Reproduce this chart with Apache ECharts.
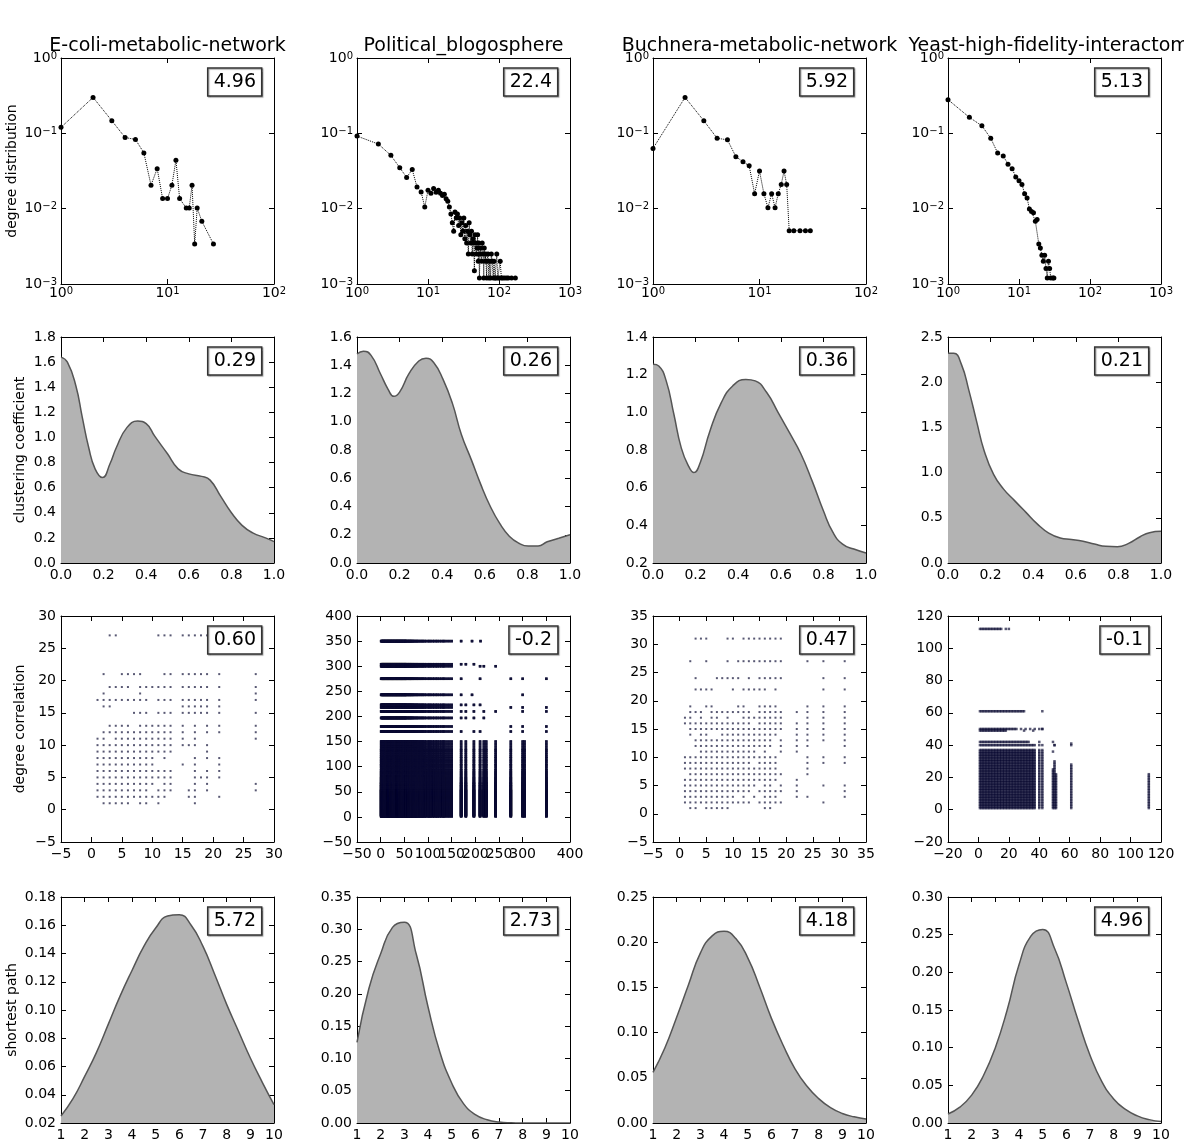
<!DOCTYPE html>
<html lang="en">
<head>
<meta charset="UTF-8">
<title>network statistics</title>
<script src="https://cdn.jsdelivr.net/npm/echarts@6/dist/echarts.min.js"></script>
<style>
    html, body { margin: 0; padding: 0; background: #fff; }
    #main { width: 1184px; height: 1148px; }
</style>
</head>
<body>
<div id="main"></div>
<script>
// ---- data -------------------------------------------------------------
var networks = ['E-coli-metabolic-network', 'Political_blogosphere', 'Buchnera-metabolic-network', 'Yeast-high-fidelity-interactome'];
var rowNames = ['degree distribution', 'clustering coefficient', 'degree correlation', 'shortest path'];

var degLabels  = ['4.96', '22.4', '5.92', '5.13'];
var ccLabels   = ['0.29', '0.26', '0.36', '0.21'];
var corrLabels = ['0.60', '-0.2', '0.47', '-0.1'];
var pathLabels = ['5.72', '2.73', '4.18', '4.96'];

// degree distribution (k, P(k))
var ecoliDegK = [1, 2, 3, 4, 5, 6, 7, 8, 9, 10, 11, 12, 13, 15, 16, 17, 18, 19, 21, 27];
var ecoliDegP = [0.12, 0.30, 0.147, 0.088, 0.083, 0.055, 0.0205, 0.034, 0.0136, 0.0136, 0.0205, 0.044, 0.0136, 0.0102, 0.0102, 0.0205, 0.0034, 0.0102, 0.0068, 0.0034];

var polDegK = [1, 2, 3, 4, 5, 6, 7, 8, 9, 10, 11, 12, 13, 14, 15, 16, 17, 18, 19, 20,
    21, 22, 23, 24, 25, 26, 27, 28, 29, 30, 31, 32, 33, 34, 35, 36, 37, 38, 39, 40,
    41, 42, 43, 44, 45, 46, 47, 48, 49, 50, 51, 52, 53, 54, 55,
    57, 58, 60, 61, 62, 64, 65, 67, 68, 70,
    72, 74, 76, 78, 80, 83, 85, 88, 90, 93,
    96, 100, 104, 108, 113, 120, 128, 135, 150, 170];
var polDegP = [0.092, 0.072, 0.051, 0.035, 0.026, 0.033, 0.0194, 0.0167, 0.0105, 0.0175,
    0.016, 0.0185, 0.0165, 0.0175, 0.016, 0.015, 0.0155, 0.0135, 0.0125, 0.0105,
    0.0085, 0.0065, 0.005, 0.009, 0.0075, 0.0085, 0.006, 0.0075, 0.0045, 0.0065,
    0.005, 0.0075, 0.004, 0.006, 0.0035, 0.005, 0.0025, 0.0065, 0.0045, 0.0035,
    0.005, 0.0025, 0.004, 0.0035, 0.0015, 0.0045, 0.0035, 0.0025, 0.003, 0.0045,
    0.002, 0.0035, 0.0012, 0.0025, 0.003,
    0.002, 0.0035, 0.0025, 0.0012, 0.003, 0.002, 0.0025, 0.0012, 0.002, 0.0025,
    0.0012, 0.002, 0.0012, 0.0025, 0.002, 0.0012, 0.002, 0.0012, 0.0012, 0.0025,
    0.0012, 0.0012, 0.002, 0.0012, 0.0012, 0.0012, 0.0012, 0.0012, 0.0012, 0.0012];

var buchDegK = [1, 2, 3, 4, 5, 6, 7, 8, 9, 10, 11, 12, 13, 14, 15, 16, 17, 18, 19, 21, 24, 27, 30];
var buchDegP = [0.063, 0.30, 0.147, 0.086, 0.082, 0.049, 0.042, 0.037, 0.0158, 0.0316, 0.0158, 0.0103,
    0.0158, 0.0103, 0.0158, 0.021, 0.0316, 0.021, 0.0051, 0.0051, 0.0051, 0.0051, 0.0051];

var yeastDegK = [1, 2, 3, 4, 5, 6, 7, 8, 9, 10, 11, 12, 13, 14, 15, 16, 17, 18, 19, 20,
    21, 22, 23, 24, 25, 26, 27, 28, 30, 31];
var yeastDegP = [0.28, 0.163, 0.126, 0.086, 0.055, 0.05, 0.039, 0.034, 0.0264, 0.0235,
    0.021, 0.0158, 0.0139, 0.0099, 0.0092, 0.0088, 0.0068, 0.0072, 0.0034, 0.003,
    0.0024, 0.002, 0.0024, 0.0016, 0.0012, 0.002, 0.0016, 0.0012, 0.0012, 0.0012];

// clustering coefficient densities
var ecoliCcX = [0, 0.03, 0.07, 0.1, 0.13, 0.16, 0.195, 0.23, 0.26, 0.31, 0.36, 0.4, 0.44, 0.5, 0.55, 0.6, 0.66, 0.7, 0.75, 0.8, 0.85, 0.9, 0.96, 1.0];
var ecoliCcY = [1.64, 1.60, 1.41, 1.16, 0.92, 0.75, 0.68, 0.79, 0.92, 1.08, 1.13, 1.11, 1.01, 0.87, 0.75, 0.71, 0.69, 0.66, 0.53, 0.40, 0.30, 0.24, 0.20, 0.17];
var polCcX = [0, 0.03, 0.066, 0.11, 0.146, 0.173, 0.2, 0.244, 0.29, 0.324, 0.36, 0.404, 0.448, 0.49, 0.537, 0.58, 0.626, 0.67, 0.715, 0.76, 0.804, 0.85, 0.893, 0.947, 1.0];
var polCcY = [1.48, 1.50, 1.47, 1.34, 1.23, 1.18, 1.21, 1.34, 1.43, 1.45, 1.42, 1.30, 1.13, 0.91, 0.73, 0.56, 0.40, 0.28, 0.19, 0.14, 0.12, 0.12, 0.15, 0.175, 0.20];
var buchCcX = [0, 0.027, 0.062, 0.098, 0.133, 0.169, 0.192, 0.222, 0.267, 0.32, 0.374, 0.436, 0.48, 0.534, 0.587, 0.64, 0.694, 0.747, 0.8, 0.845, 0.89, 0.943, 1.0];
var buchCcY = [1.255, 1.246, 1.167, 0.99, 0.81, 0.71, 0.68, 0.734, 0.90, 1.05, 1.14, 1.175, 1.167, 1.105, 1.0, 0.893, 0.78, 0.636, 0.477, 0.362, 0.30, 0.274, 0.253];
var yeastCcX = [0, 0.027, 0.0625, 0.098, 0.134, 0.17, 0.214, 0.26, 0.3125, 0.366, 0.42, 0.473, 0.527, 0.58, 0.634, 0.6875, 0.741, 0.795, 0.848, 0.902, 0.946, 1.0];
var yeastCcY = [2.32, 2.32, 2.2, 1.91, 1.57, 1.24, 0.98, 0.82, 0.69, 0.56, 0.43, 0.33, 0.276, 0.26, 0.24, 0.21, 0.184, 0.18, 0.217, 0.29, 0.335, 0.35];

// degree correlation: [neighbour degree, [node degrees]]
var ecoliCorrRows = [
    [27, [3, 4, 11, 12, 13, 15, 16, 17, 18, 19, 21]],
    [21, [2, 5, 6, 7, 8, 12, 13, 15, 16, 17, 18, 19, 21, 27]],
    [19, [3, 4, 5, 6, 8, 9, 10, 11, 12, 13, 15, 16, 17, 18, 19, 21, 27]],
    [18, [2, 8, 27]],
    [17, [1, 2, 3, 4, 5, 6, 7, 8, 9, 11, 12, 13, 15, 16, 17, 18, 19, 21, 27]],
    [16, [2, 3, 15, 16, 17, 18, 19, 21]],
    [15, [7, 8, 9, 11, 12, 13, 15, 16, 17, 18, 19, 21, 27]],
    [13, [3, 4, 5, 6, 8, 9, 10, 11, 12, 13, 15, 17, 19, 21, 27]],
    [12, [2, 3, 4, 5, 6, 7, 8, 9, 10, 11, 12, 13, 15, 17, 19, 21, 27]],
    [11, [1, 2, 4, 5, 6, 7, 8, 9, 10, 11, 12, 13, 15, 17, 27]],
    [10, [1, 2, 3, 4, 5, 6, 7, 8, 9, 10, 11, 12, 13, 15, 16, 17, 19]],
    [9, [1, 2, 3, 4, 5, 6, 7, 8, 9, 10, 11, 12, 13, 19]],
    [8, [1, 2, 3, 4, 5, 6, 7, 8, 9, 10, 12, 17, 19, 21]],
    [7, [1, 2, 3, 4, 5, 6, 7, 8, 9, 10, 15, 17, 21]],
    [6, [1, 2, 3, 4, 5, 6, 7, 8, 9, 10, 11, 12, 13, 17, 19, 21]],
    [5, [1, 2, 3, 4, 5, 6, 7, 8, 9, 10, 11, 12, 13, 17, 18, 19, 21]],
    [4, [1, 2, 3, 4, 5, 6, 7, 8, 9, 10, 12, 13, 17, 19, 27]],
    [3, [1, 2, 3, 4, 5, 6, 7, 8, 9, 11, 12, 13, 16, 17, 19, 27]],
    [2, [1, 2, 3, 4, 5, 6, 7, 8, 9, 10, 11, 12, 16, 17, 21]],
    [1, [2, 3, 4, 5, 6, 8, 9, 11, 17]]
];
var buchCorrRows = [
    [31, [3, 4, 5, 9, 10, 12, 13, 14, 15, 16, 17, 18, 19]],
    [27, [2, 5, 9, 11, 12, 13, 14, 15, 16, 17, 18, 19, 24, 27, 31]],
    [24, [3, 7, 8, 9, 10, 11, 13, 15, 16, 17, 18, 19, 27, 31]],
    [22, [3, 4, 5, 6, 10, 12, 13, 14, 15, 16, 18, 27, 31]],
    [19, [2, 5, 6, 11, 12, 15, 16, 17, 18, 24, 27, 31]],
    [18, [2, 3, 4, 6, 7, 8, 9, 10, 11, 12, 13, 15, 16, 17, 18, 19, 22, 24, 27, 31]],
    [17, [1, 2, 4, 6, 7, 9, 12, 13, 14, 15, 16, 17, 18, 19, 24, 27, 31]],
    [16, [1, 2, 3, 4, 5, 6, 7, 8, 9, 10, 11, 12, 13, 15, 16, 17, 18, 19, 22, 24, 27, 31]],
    [15, [2, 3, 4, 5, 6, 7, 8, 9, 10, 11, 12, 13, 14, 15, 16, 17, 18, 19, 22, 24, 27, 31]],
    [14, [2, 4, 5, 8, 9, 10, 11, 12, 13, 14, 15, 16, 17, 18, 22, 24, 27, 31]],
    [13, [3, 4, 5, 6, 7, 8, 9, 10, 11, 12, 13, 14, 15, 16, 17, 19, 22, 24, 27, 31]],
    [12, [3, 4, 5, 6, 7, 8, 9, 10, 11, 12, 13, 14, 15, 16, 17, 19, 22, 24, 31]],
    [11, [4, 5, 6, 7, 8, 9, 10, 11, 12, 13, 14, 16, 19, 22]],
    [10, [1, 2, 3, 4, 5, 6, 7, 8, 9, 10, 11, 12, 13, 14, 15, 16, 17, 18, 24, 27, 31]],
    [9, [1, 2, 3, 4, 5, 6, 7, 8, 9, 10, 11, 12, 13, 15, 16, 17, 18, 24, 27, 31]],
    [8, [1, 2, 3, 4, 5, 6, 7, 8, 9, 10, 11, 12, 13, 14, 15, 16, 17, 18, 24]],
    [7, [2, 3, 4, 5, 6, 7, 8, 9, 10, 11, 12, 13, 14, 15, 16, 17, 18, 19, 24]],
    [6, [1, 2, 3, 4, 5, 6, 7, 8, 9, 10, 11, 12, 13, 14, 15, 16, 17, 18, 22]],
    [5, [1, 2, 3, 4, 5, 6, 7, 8, 9, 10, 11, 12, 13, 14, 16, 17, 19, 22, 27, 31]],
    [4, [1, 2, 3, 4, 5, 6, 7, 8, 9, 10, 11, 12, 13, 15, 16, 17, 18, 19, 22, 31]],
    [3, [1, 2, 3, 4, 5, 6, 7, 8, 9, 10, 12, 14, 16, 17, 18, 22, 24, 31]],
    [2, [1, 2, 3, 4, 5, 6, 7, 8, 9, 10, 11, 12, 13, 15, 16, 17, 18, 19, 27]],
    [1, [2, 3, 5, 6, 7, 8, 9, 16, 17]]
];
// political blogs: distinct low degrees (dense block), hub degrees, hub-hub pairs
var polCorrDeg = [1, 2, 3, 4, 5, 6, 7, 8, 9, 10, 11, 12, 13, 14, 15, 16, 17, 18, 19, 20,
    21, 22, 23, 24, 25, 26, 27, 28, 29, 30, 31, 32, 33, 34, 35, 36, 37, 38, 39, 40,
    41, 42, 43, 44, 45, 46, 47, 48, 49, 50, 51, 52, 53, 54, 55, 57, 58, 60, 61, 62,
    64, 65, 67, 68, 70, 72, 74, 76, 78, 80, 83, 85, 88, 90, 93, 96, 100, 103, 106,
    110, 113, 117, 120, 124, 128, 132, 135, 140, 145, 150];
var polCorrHub = [170, 180, 197, 210, 218, 223, 243, 275, 300, 304, 350];
var polCorrHubPairs = [[170, 350], [193, 350], [211, 350], [170, 304], [180, 304], [197, 304], [210, 300],
    [218, 300], [243, 300], [170, 275], [210, 275], [275, 275], [300, 275], [350, 275], [170, 243],
    [193, 243], [300, 243], [170, 223], [180, 223], [197, 223], [210, 223], [275, 218], [300, 218],
    [350, 218], [170, 210], [180, 210], [197, 210], [218, 210], [243, 210], [300, 210], [350, 210],
    [170, 197], [180, 197], [197, 197], [218, 197], [275, 180], [300, 180], [350, 180], [170, 170],
    [197, 170], [210, 170], [275, 170], [300, 170], [350, 170]];
// yeast: distinct low degrees, then hub rows/columns [hub, from, to, extra degrees]
var yeastCorrDeg = [1, 2, 3, 4, 5, 6, 7, 8, 9, 10, 11, 12, 13, 14, 15, 16, 17, 18, 19, 20,
    21, 22, 23, 24, 25, 26, 27, 28, 29, 30, 31, 32, 33, 34, 35, 36, 37];
var yeastCorrHubRows = [[112, 1, 15, [18, 20]], [61, 1, 30, [42]], [50, 1, 25, [28, 31, 34, 37, 40, 42]],
    [49, 1, 18, [30, 36]], [42, 1, 33, [40, 49]], [40, 1, 37, [42, 50, 61]]];
var yeastCorrHubCols = [[40, 1, 37, [40]], [42, 1, 40, [50]], [49, 1, 25, [36]], [50, 1, 30, [40]],
    [51, 1, 22, []], [61, 1, 28, [41]], [112, 1, 22, []]];

// shortest path densities
var ecoliPathX = [1, 1.5, 2, 2.5, 3, 3.5, 4, 4.5, 5, 5.5, 6, 6.5, 7, 7.5, 8, 8.5, 9, 9.5, 10];
var ecoliPathY = [0.025, 0.037, 0.053, 0.07, 0.09, 0.11, 0.128, 0.145, 0.158, 0.1665, 0.1675, 0.16, 0.145, 0.125, 0.104, 0.085, 0.066, 0.049, 0.033];
var polPathX = [1, 1.5, 2, 2.5, 3, 3.5, 4, 4.5, 5, 5.5, 6, 6.5, 7, 7.5, 8, 9, 10];
var polPathY = [0.125, 0.208, 0.262, 0.303, 0.311, 0.262, 0.18, 0.11, 0.062, 0.03, 0.013, 0.005, 0.0015, 0.0004, 0.0001, 0, 0];
var buchPathX = [1, 1.5, 2, 2.5, 3, 3.5, 4, 4.5, 5, 5.5, 6, 6.5, 7, 7.5, 8, 8.5, 9, 9.5, 10];
var buchPathY = [0.056, 0.083, 0.117, 0.153, 0.188, 0.207, 0.212, 0.204, 0.183, 0.151, 0.116, 0.086, 0.06, 0.041, 0.027, 0.017, 0.0105, 0.0068, 0.0045];
var yeastPathX = [1, 1.5, 2, 2.5, 3, 3.5, 4, 4.5, 5, 5.5, 6, 6.5, 7, 7.5, 8, 8.5, 9, 9.5, 10];
var yeastPathY = [0.012, 0.021, 0.037, 0.063, 0.1, 0.15, 0.21, 0.248, 0.257, 0.232, 0.186, 0.136, 0.09, 0.055, 0.032, 0.018, 0.0095, 0.0045, 0.002];

// ---- layout -----------------------------------------------------------
var FONT = 'DejaVu Sans';
var colLeft = [61, 357, 653, 948];
var rowTop = [58, 337, 616, 897];
var PW = 213, PH = 226;
var nameGaps = [42, 34, 34, 42];

var grids = [], xAxes = [], yAxes = [], series = [], titles = [], graphics = [];

function pairs(xs, ys) {
    return xs.map(function (x, i) { return [x, ys[i]]; });
}
function fmtNum(dec) {
    return function (v) {
        var s = v.toFixed(dec);
        return s.charAt(0) === '-' ? '\u2212' + s.slice(1) : s;
    };
}
function supFmt(v) {
    var e = Math.round(Math.log(v) / Math.LN10);
    return '{b|10}{s|' + (e < 0 ? '\u2212' + (-e) : e) + '}';
}
var supRich = {
    b: { fontSize: 14, fontFamily: FONT, color: '#000', lineHeight: 14, padding: [6, 0, 0, 0], verticalAlign: 'bottom' },
    s: { fontSize: 10, fontFamily: FONT, color: '#000', lineHeight: 10, verticalAlign: 'top' }
};

function addAxes(list, g, spec, isX, name, gap) {
    var base = {
        gridIndex: g,
        type: spec.log ? 'log' : 'value',
        min: spec.min,
        max: spec.max,
        splitLine: { show: false },
        axisLine: { show: true, onZero: false, lineStyle: { color: '#000', width: 1 } },
        axisTick: { show: true, inside: true, length: 5, lineStyle: { color: '#000' } }
    };
    if (spec.log) base.logBase = 10; else base.interval = spec.step;
    var main = Object.assign({}, base, {
        position: isX ? 'bottom' : 'left',
        axisLabel: spec.log
            ? { formatter: supFmt, rich: supRich, margin: isX ? 2 : 4 }
            : { formatter: fmtNum(spec.dec), fontSize: 14, fontFamily: FONT, color: '#000', margin: 5,
                showMinLabel: true, showMaxLabel: true, hideOverlap: false, interval: 0 }
    });
    if (name) {
        main.name = name;
        main.nameLocation = 'middle';
        main.nameGap = gap;
        main.nameRotate = 90;
        main.nameTextStyle = { fontSize: 14, fontFamily: FONT, color: '#000' };
    }
    var mirror = Object.assign({}, base, { position: isX ? 'top' : 'right', axisLabel: { show: false } });
    list.push(main, mirror);
}

function addPanel(r, c, xSpec, ySpec, label) {
    var g = r * 4 + c;
    grids.push({ left: colLeft[c], top: rowTop[r], width: PW, height: PH, containLabel: false });
    addAxes(xAxes, g, xSpec, true);
    addAxes(yAxes, g, ySpec, false, c === 0 ? rowNames[r] : null, nameGaps[r]);
    titles.push({
        text: label,
        right: 1184 - (colLeft[c] + PW) + 12,
        top: rowTop[r] + 10,
        textStyle: { fontSize: 19, fontWeight: 'normal', fontFamily: FONT, color: '#000' },
        padding: [5, 6, 4, 6],
        borderColor: '#333',
        borderWidth: 1.5,
        backgroundColor: '#fff',
        shadowColor: 'rgba(0,0,0,0.35)',
        shadowOffsetX: 1,
        shadowOffsetY: 1,
        shadowBlur: 1
    });
    return g;
}

function degSeries(g, ks, ps) {
    series.push({
        type: 'line', xAxisIndex: 2 * g, yAxisIndex: 2 * g, data: pairs(ks, ps),
        symbol: 'circle', symbolSize: 5, itemStyle: { color: '#000' },
        lineStyle: { color: '#000', width: 1, type: 'dotted' }, silent: true
    });
}
function densitySeries(g, xs, ys) {
    series.push({
        type: 'line', xAxisIndex: 2 * g, yAxisIndex: 2 * g, data: pairs(xs, ys),
        smooth: 0.5, symbol: 'none',
        lineStyle: { color: '#555', width: 1.5 },
        areaStyle: { color: '#b3b3b3', opacity: 1, origin: 'start' }, silent: true
    });
}
function scatterSeries(g, pts, size) {
    series.push({
        type: 'scatter', xAxisIndex: 2 * g, yAxisIndex: 2 * g, data: pts,
        symbol: 'rect', symbolSize: size, large: true, largeThreshold: 500,
        itemStyle: { color: 'rgba(10,10,50,0.85)' }, silent: true
    });
}
function rowsToPoints(rowsArr) {
    var pts = [];
    rowsArr.forEach(function (r) { r[1].forEach(function (x) { pts.push([x, r[0]]); }); });
    return pts;
}

// ---- row 1: degree distribution --------------------------------------
var logY = { log: true, min: 0.001, max: 1 };
degSeries(addPanel(0, 0, { log: true, min: 1, max: 100 }, logY, degLabels[0]), ecoliDegK, ecoliDegP);
degSeries(addPanel(0, 1, { log: true, min: 1, max: 1000 }, logY, degLabels[1]), polDegK, polDegP);
degSeries(addPanel(0, 2, { log: true, min: 1, max: 100 }, logY, degLabels[2]), buchDegK, buchDegP);
degSeries(addPanel(0, 3, { log: true, min: 1, max: 1000 }, logY, degLabels[3]), yeastDegK, yeastDegP);

// ---- row 2: clustering coefficient -----------------------------------
var ccX = { min: 0, max: 1, step: 0.2, dec: 1 };
densitySeries(addPanel(1, 0, ccX, { min: 0, max: 1.8, step: 0.2, dec: 1 }, ccLabels[0]), ecoliCcX, ecoliCcY);
densitySeries(addPanel(1, 1, ccX, { min: 0, max: 1.6, step: 0.2, dec: 1 }, ccLabels[1]), polCcX, polCcY);
densitySeries(addPanel(1, 2, ccX, { min: 0.2, max: 1.4, step: 0.2, dec: 1 }, ccLabels[2]), buchCcX, buchCcY);
densitySeries(addPanel(1, 3, ccX, { min: 0, max: 2.5, step: 0.5, dec: 1 }, ccLabels[3]), yeastCcX, yeastCcY);

// ---- row 3: degree correlation ---------------------------------------
var ecoliAx = { min: -5, max: 30, step: 5, dec: 0 };
scatterSeries(addPanel(2, 0, ecoliAx, ecoliAx, corrLabels[0]), rowsToPoints(ecoliCorrRows), 2);

var polPts = [];
polCorrDeg.forEach(function (a) { polCorrDeg.forEach(function (b) { polPts.push([a, b]); }); });
polCorrHub.forEach(function (h) { polCorrDeg.forEach(function (d) { polPts.push([d, h], [h, d]); }); });
polCorrHubPairs.forEach(function (p) { polPts.push(p); });
var polAx = { min: -50, max: 400, step: 50, dec: 0 };
scatterSeries(addPanel(2, 1, polAx, polAx, corrLabels[1]), polPts, 2.5);

var buchAx = { min: -5, max: 35, step: 5, dec: 0 };
scatterSeries(addPanel(2, 2, buchAx, buchAx, corrLabels[2]), rowsToPoints(buchCorrRows), 2);

var yeastPts = [];
yeastCorrDeg.forEach(function (a) { yeastCorrDeg.forEach(function (b) { yeastPts.push([a, b]); }); });
yeastCorrHubRows.forEach(function (h) {
    yeastCorrDeg.forEach(function (d) { if (d >= h[1] && d <= h[2]) yeastPts.push([d, h[0]]); });
    h[3].forEach(function (d) { yeastPts.push([d, h[0]]); });
});
yeastCorrHubCols.forEach(function (h) {
    yeastCorrDeg.forEach(function (d) { if (d >= h[1] && d <= h[2]) yeastPts.push([h[0], d]); });
    h[3].forEach(function (d) { yeastPts.push([h[0], d]); });
});
var yeastAx = { min: -20, max: 120, step: 20, dec: 0 };
scatterSeries(addPanel(2, 3, yeastAx, yeastAx, corrLabels[3]), yeastPts, 2.5);

// ---- row 4: shortest path --------------------------------------------
var spX = { min: 1, max: 10, step: 1, dec: 0 };
densitySeries(addPanel(3, 0, spX, { min: 0.02, max: 0.18, step: 0.02, dec: 2 }, pathLabels[0]), ecoliPathX, ecoliPathY);
densitySeries(addPanel(3, 1, spX, { min: 0, max: 0.35, step: 0.05, dec: 2 }, pathLabels[1]), polPathX, polPathY);
densitySeries(addPanel(3, 2, spX, { min: 0, max: 0.25, step: 0.05, dec: 2 }, pathLabels[2]), buchPathX, buchPathY);
densitySeries(addPanel(3, 3, spX, { min: 0, max: 0.30, step: 0.05, dec: 2 }, pathLabels[3]), yeastPathX, yeastPathY);

// column titles
networks.forEach(function (n, c) {
    graphics.push({
        type: 'text', x: colLeft[c] + PW / 2, y: 46, z: 100,
        style: { text: n, fontSize: 19, fontFamily: FONT, fill: '#000', align: 'center', verticalAlign: 'middle' }
    });
});

var chart = echarts.init(document.getElementById('main'));
chart.setOption({
    animation: false,
    backgroundColor: '#fff',
    textStyle: { fontFamily: FONT },
    title: titles,
    grid: grids,
    xAxis: xAxes,
    yAxis: yAxes,
    series: series,
    graphic: graphics
});
</script>
</body>
</html>
